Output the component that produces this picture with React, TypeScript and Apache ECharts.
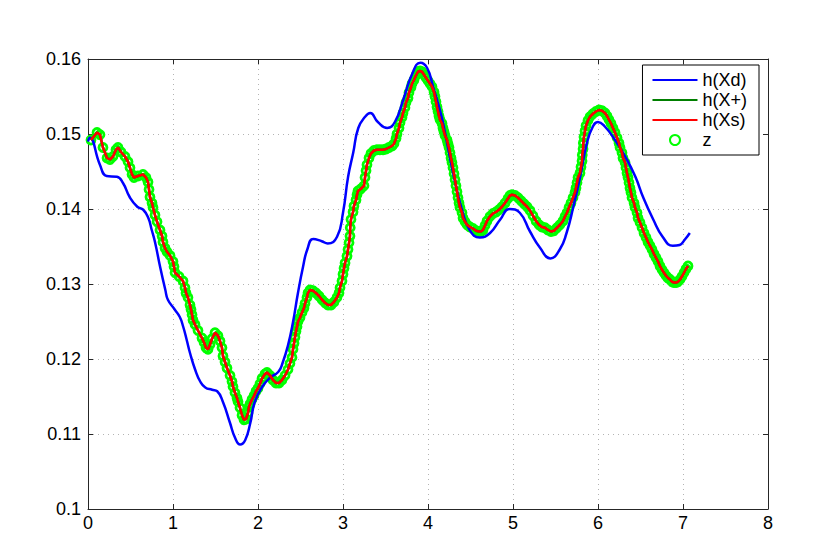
import React, { useEffect, useRef } from "react";
import * as echarts from "echarts";

// h(Xd) – blue reference curve [t, value]
const hXd: [number, number][] = [
  [0.0, 0.149], [0.02, 0.1495], [0.14, 0.1459], [0.22, 0.1444], [0.34, 0.1443], [0.41, 0.1435],
  [0.49, 0.1416], [0.58, 0.1403], [0.65, 0.1399], [0.71, 0.1388], [0.75, 0.1372], [0.79, 0.1355],
  [0.85, 0.1322], [0.91, 0.1292], [0.94, 0.1279], [1.02, 0.1266], [1.08, 0.1256], [1.12, 0.1243],
  [1.16, 0.1226], [1.2, 0.1208], [1.26, 0.1186], [1.32, 0.117], [1.38, 0.1162], [1.46, 0.1159],
  [1.52, 0.1157], [1.59, 0.1142], [1.67, 0.1115], [1.73, 0.1095], [1.79, 0.1086], [1.85, 0.1092],
  [1.91, 0.1115], [1.96, 0.1142], [2.05, 0.1163], [2.14, 0.1175], [2.24, 0.1183], [2.29, 0.1195],
  [2.35, 0.1217], [2.41, 0.1248], [2.47, 0.1288], [2.53, 0.1323], [2.58, 0.1346], [2.65, 0.136],
  [2.75, 0.1357], [2.82, 0.1354], [2.93, 0.1363], [3.0, 0.1395], [3.06, 0.1443], [3.12, 0.1475],
  [3.18, 0.1508], [3.26, 0.1523], [3.32, 0.1528], [3.41, 0.1516], [3.52, 0.1508], [3.61, 0.1516],
  [3.71, 0.1546], [3.81, 0.1579], [3.91, 0.1595], [3.99, 0.1588], [4.06, 0.1563], [4.16, 0.1523],
  [4.24, 0.1479], [4.32, 0.1435], [4.4, 0.1399], [4.49, 0.1372], [4.61, 0.1362], [4.73, 0.1368],
  [4.85, 0.1386], [4.96, 0.14], [5.08, 0.1395], [5.2, 0.137], [5.32, 0.1348], [5.44, 0.1334],
  [5.55, 0.1346], [5.63, 0.1368], [5.71, 0.1403], [5.79, 0.1443], [5.87, 0.1488], [5.94, 0.151],
  [6.0, 0.1516], [6.08, 0.151], [6.2, 0.1492], [6.32, 0.147], [6.44, 0.1443], [6.53, 0.1416],
  [6.65, 0.1386], [6.76, 0.1363], [6.88, 0.1351], [6.96, 0.1352], [7.02, 0.1359], [7.08, 0.1368],
];

// z – measured samples (also traced by h(X+) and h(Xs))
const zPoints: [number, number][] = [
  [0.035, 0.1492], [0.106, 0.1502], [0.141, 0.1499], [0.176, 0.1482], [0.224, 0.1468], [0.259, 0.1466],
  [0.294, 0.147], [0.329, 0.1479], [0.353, 0.1482], [0.388, 0.1476], [0.435, 0.147], [0.471, 0.1463],
  [0.494, 0.1455], [0.518, 0.1446], [0.541, 0.1442], [0.588, 0.1444], [0.647, 0.1446], [0.682, 0.1442],
  [0.706, 0.1436], [0.718, 0.1426], [0.729, 0.1416], [0.753, 0.1408], [0.765, 0.1402], [0.788, 0.1392],
  [0.812, 0.1383], [0.847, 0.1372], [0.871, 0.1364], [0.882, 0.1356], [0.906, 0.1348], [0.929, 0.1343],
  [0.965, 0.1338], [1.0, 0.133], [1.012, 0.1323], [1.024, 0.1315], [1.071, 0.131], [1.118, 0.1304],
  [1.141, 0.1295], [1.153, 0.1288], [1.176, 0.1282], [1.2, 0.1272], [1.212, 0.1266], [1.224, 0.1259],
  [1.235, 0.1252], [1.259, 0.1246], [1.294, 0.1238], [1.341, 0.1228], [1.365, 0.1222], [1.388, 0.1215],
  [1.412, 0.1213], [1.435, 0.1219], [1.459, 0.1227], [1.494, 0.1235], [1.529, 0.1231], [1.553, 0.1224],
  [1.576, 0.1215], [1.588, 0.1204], [1.612, 0.1196], [1.635, 0.1188], [1.671, 0.1178], [1.694, 0.117],
  [1.706, 0.1163], [1.729, 0.1155], [1.753, 0.1148], [1.765, 0.1143], [1.788, 0.1135], [1.812, 0.1125],
  [1.835, 0.1119], [1.859, 0.112], [1.882, 0.1128], [1.894, 0.1136], [1.906, 0.114], [1.929, 0.1146],
  [1.953, 0.1151], [1.976, 0.1157], [2.0, 0.1161], [2.024, 0.1167], [2.047, 0.1174], [2.082, 0.118],
  [2.106, 0.1182], [2.141, 0.1178], [2.176, 0.1172], [2.212, 0.1168], [2.247, 0.1168], [2.282, 0.1172],
  [2.318, 0.1178], [2.353, 0.1186], [2.376, 0.1194], [2.4, 0.1202], [2.412, 0.1213], [2.424, 0.1221],
  [2.435, 0.1229], [2.447, 0.1237], [2.459, 0.1243], [2.471, 0.125], [2.494, 0.1255], [2.518, 0.1262],
  [2.541, 0.1268], [2.553, 0.1274], [2.576, 0.1282], [2.588, 0.1288], [2.612, 0.1292], [2.647, 0.1291],
  [2.682, 0.1288], [2.718, 0.1284], [2.753, 0.1279], [2.788, 0.1275], [2.824, 0.1272], [2.859, 0.1272],
  [2.894, 0.1276], [2.929, 0.1282], [2.953, 0.1288], [2.965, 0.1295], [2.988, 0.1304], [3.0, 0.1313],
  [3.012, 0.1321], [3.024, 0.1328], [3.047, 0.1337], [3.059, 0.1346], [3.071, 0.1355], [3.082, 0.1364],
  [3.085, 0.1375], [3.094, 0.1386], [3.118, 0.1396], [3.129, 0.1404], [3.153, 0.1412], [3.165, 0.1419],
  [3.176, 0.1424], [3.212, 0.1427], [3.247, 0.1431], [3.259, 0.1442], [3.271, 0.1451], [3.282, 0.1459],
  [3.306, 0.1468], [3.329, 0.1474], [3.365, 0.1478], [3.4, 0.1479], [3.435, 0.1479], [3.471, 0.1479],
  [3.506, 0.148], [3.541, 0.1482], [3.576, 0.1484], [3.6, 0.1487], [3.624, 0.1494], [3.635, 0.15],
  [3.659, 0.1508], [3.671, 0.1515], [3.694, 0.1522], [3.706, 0.1528], [3.729, 0.1535], [3.741, 0.1542],
  [3.765, 0.1548], [3.776, 0.1555], [3.8, 0.1562], [3.812, 0.1567], [3.835, 0.1572], [3.859, 0.1578],
  [3.882, 0.1583], [3.906, 0.1584], [3.929, 0.1583], [3.953, 0.1579], [3.976, 0.1575], [4.0, 0.1571],
  [4.024, 0.1567], [4.047, 0.1563], [4.071, 0.1556], [4.082, 0.155], [4.094, 0.1543], [4.106, 0.1536],
  [4.118, 0.153], [4.129, 0.1524], [4.141, 0.1519], [4.165, 0.1514], [4.176, 0.1508], [4.188, 0.1503],
  [4.2, 0.1498], [4.224, 0.1492], [4.235, 0.1487], [4.247, 0.1482], [4.259, 0.1475], [4.271, 0.1468],
  [4.282, 0.1462], [4.294, 0.1455], [4.306, 0.1447], [4.318, 0.1439], [4.329, 0.1431], [4.341, 0.1423],
  [4.353, 0.1415], [4.365, 0.1408], [4.376, 0.1402], [4.4, 0.1395], [4.412, 0.1388], [4.435, 0.1383],
  [4.459, 0.1379], [4.494, 0.1376], [4.529, 0.1374], [4.565, 0.1371], [4.6, 0.137], [4.624, 0.137],
  [4.647, 0.1372], [4.671, 0.1378], [4.694, 0.1384], [4.729, 0.139], [4.765, 0.1394], [4.8, 0.1396],
  [4.835, 0.1399], [4.871, 0.1403], [4.906, 0.1408], [4.941, 0.1414], [4.965, 0.1418], [4.988, 0.1419],
  [5.024, 0.1418], [5.059, 0.1415], [5.094, 0.1411], [5.129, 0.1407], [5.165, 0.1403], [5.2, 0.1398],
  [5.235, 0.1391], [5.271, 0.1384], [5.306, 0.1379], [5.341, 0.1376], [5.376, 0.1375], [5.412, 0.1372],
  [5.447, 0.137], [5.482, 0.1371], [5.518, 0.1375], [5.553, 0.1379], [5.588, 0.1384], [5.612, 0.139],
  [5.635, 0.1395], [5.659, 0.1402], [5.682, 0.1408], [5.706, 0.1415], [5.729, 0.1422], [5.741, 0.1428],
  [5.753, 0.1435], [5.765, 0.1442], [5.788, 0.1448], [5.8, 0.1456], [5.812, 0.1464], [5.815, 0.1472],
  [5.824, 0.148], [5.827, 0.1488], [5.835, 0.1496], [5.847, 0.1504], [5.859, 0.1511], [5.882, 0.1518],
  [5.906, 0.1523], [5.941, 0.1527], [5.976, 0.153], [6.012, 0.1532], [6.047, 0.1531], [6.082, 0.1528],
  [6.106, 0.1524], [6.129, 0.1519], [6.153, 0.1514], [6.176, 0.1508], [6.2, 0.1502], [6.224, 0.1495],
  [6.247, 0.1488], [6.259, 0.1482], [6.282, 0.1475], [6.294, 0.1468], [6.318, 0.1462], [6.329, 0.1455],
  [6.341, 0.1448], [6.353, 0.1442], [6.365, 0.1435], [6.376, 0.1428], [6.388, 0.1422], [6.4, 0.1415],
  [6.424, 0.1408], [6.435, 0.1402], [6.459, 0.1395], [6.471, 0.1388], [6.494, 0.1382], [6.518, 0.1375],
  [6.541, 0.1368], [6.565, 0.1362], [6.588, 0.1356], [6.612, 0.1351], [6.635, 0.1346], [6.659, 0.134],
  [6.682, 0.1335], [6.706, 0.133], [6.729, 0.1324], [6.753, 0.1319], [6.776, 0.1315], [6.8, 0.1311],
  [6.824, 0.1308], [6.847, 0.1306], [6.871, 0.1303], [6.894, 0.1302], [6.918, 0.1302], [6.941, 0.1303],
  [6.965, 0.1306], [6.988, 0.131], [7.012, 0.1315], [7.035, 0.132], [7.059, 0.1324],
];

const hXplus = zPoints;
const hXs = zPoints;

const seriesNames = ["h(Xd)", "h(X+)", "h(Xs)", "z"];
const xTicks = { min: 0, max: 8, interval: 1 };
const yTicks = { min: 0.1, max: 0.16, interval: 0.01 };

const FONT = "Liberation Sans, Arial, Helvetica, sans-serif";
const AXIS_COLOR = "#262626";

export default function App() {
  const ref = useRef<HTMLDivElement>(null);

  useEffect(() => {
    if (!ref.current) return;
    const chart = echarts.init(ref.current, undefined, { renderer: "svg" });

    const splitLine = {
      show: true,
      lineStyle: { color: "#b4b4b4", width: 1, type: [1, 4] as any },
    };
    const axisLine = { show: true, onZero: false, lineStyle: { color: AXIS_COLOR, width: 1 } };
    const tick = { show: true, inside: true, length: 5, lineStyle: { color: AXIS_COLOR } };

    const hiddenSymbol = { opacity: 0, borderWidth: 0 };

    chart.setOption({
      animation: false,
      backgroundColor: "#ffffff",
      grid: { left: 88, right: 63, top: 59, bottom: 45, containLabel: false },
      legend: {
        data: [
          { name: seriesNames[0], itemStyle: hiddenSymbol },
          { name: seriesNames[1], itemStyle: hiddenSymbol },
          { name: seriesNames[2], itemStyle: hiddenSymbol },
          { name: seriesNames[3] },
        ],
        orient: "vertical",
        right: 72,
        top: 65,
        padding: [6, 12, 6, 9],
        itemGap: 2,
        itemWidth: 45,
        itemHeight: 10,
        backgroundColor: "#ffffff",
        borderColor: "#000000",
        borderWidth: 1,
        borderRadius: 0,
        textStyle: { fontFamily: FONT, fontSize: 18, color: "#000", lineHeight: 18 },
      },
      xAxis: [
        {
          type: "value",
          position: "bottom",
          ...xTicks,
          axisLine,
          axisTick: tick,
          splitLine,
          axisLabel: { show: true, margin: 5, color: "#000", fontFamily: FONT, fontSize: 18 },
        },
        {
          type: "value",
          position: "top",
          ...xTicks,
          axisLine,
          axisTick: tick,
          splitLine: { show: false },
          axisLabel: { show: false },
        },
      ],
      yAxis: [
        {
          type: "value",
          position: "left",
          ...yTicks,
          axisLine,
          axisTick: tick,
          splitLine,
          axisLabel: {
            show: true,
            margin: 7,
            color: "#000",
            fontFamily: FONT,
            fontSize: 18,
            formatter: (v: number) => String(parseFloat(v.toFixed(2))),
          },
        },
        {
          type: "value",
          position: "right",
          ...yTicks,
          axisLine,
          axisTick: tick,
          splitLine: { show: false },
          axisLabel: { show: false },
        },
      ],
      series: [
        {
          name: "h(Xd)",
          type: "line",
          data: hXd,
          smooth: 0.5,
          symbol: "none",
          lineStyle: { color: "#0000ff", width: 2.5 },
          itemStyle: { color: "#0000ff" },
        },
        {
          name: "h(X+)",
          type: "line",
          data: hXplus,
          symbol: "none",
          lineStyle: { color: "#007f00", width: 2.5 },
          itemStyle: { color: "#007f00" },
        },
        {
          name: "h(Xs)",
          type: "line",
          data: hXs,
          symbol: "none",
          lineStyle: { color: "#ff0000", width: 2.5 },
          itemStyle: { color: "#ff0000" },
        },
        {
          name: "z",
          type: "scatter",
          data: zPoints,
          symbol: "circle",
          symbolSize: 8,
          itemStyle: { color: "rgba(0,0,0,0)", borderColor: "#00ff00", borderWidth: 2.8, opacity: 1 },
        },
      ],
    });

    return () => chart.dispose();
  }, []);

  return (
    <div
      ref={ref}
      style={{ position: "fixed", left: 0, top: 0, width: 831, height: 554, background: "#fff" }}
    />
  );
}
